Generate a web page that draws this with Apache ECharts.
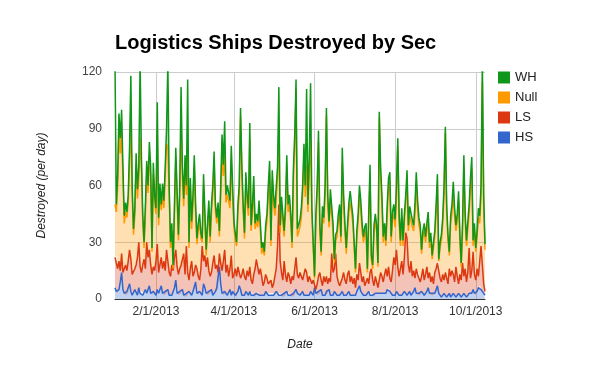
<!DOCTYPE html>
<html><head><meta charset="utf-8">
<script src="https://cdn.jsdelivr.net/npm/echarts@6/dist/echarts.min.js"></script>
<style>html,body{margin:0;padding:0;background:#fff}#c{width:600px;height:371px}</style>
</head><body><div id="c"></div>
<script>
// Daily data starting 1/1/2013
const startDate = [2013, 1, 1];
const tickLabels = ['2/1/2013', '4/1/2013', '6/1/2013', '8/1/2013', '10/1/2013'];
const yTicks = [0, 30, 60, 90, 120];

const hs = [
6,4,3,5,9,14,5,3,2,4,
3,8,4,2,3,5,4,2,6,3,
4,2,3,5,3,4,7,3,2,4,
3,2,5,3,4,7,3,2,4,3,
5,2,3,2,4,6,10,3,2,4,
3,5,2,1,3,2,4,3,2,4,
5,9,3,2,4,3,2,8,6,3,
2,4,3,5,2,3,4,6,5,17,
8,3,2,4,3,2,3,5,2,4,
3,2,1,4,7,5,2,3,2,4,
3,2,4,2,3,2,1,3,4,2,
3,2,1,2,4,3,2,3,2,3,
2,3,4,3,2,3,2,1,3,2,
4,2,3,2,1,3,2,5,3,2,
2,3,4,2,3,2,3,2,4,3,
2,6,3,2,4,3,5,2,3,2,
4,3,5,2,3,2,4,3,2,3,
2,3,4,2,3,2,3,4,2,3,
2,3,2,4,5,7,4,3,2,3,
2,3,4,2,3,2,1,3,2,3,
2,3,2,3,4,3,5,6,4,3,
2,3,2,4,3,2,3,2,3,4,
3,2,3,4,2,3,4,6,3,2,
3,2,4,3,2,3,4,6,3,2,
3,2,3,4,7,3,2,1,2,3,
2,1,2,3,1,2,3,2,1,2,
3,2,1,2,3,2,1,2,3,2,
3,5,3,2,4,6,7,5,4,3,
2];

const ls = [
16,19,13,15,6,10,9,13,16,11,
17,18,17,11,11,11,14,20,24,14,
10,16,18,11,27,18,19,15,11,13,
12,18,24,11,14,15,13,18,11,23,
15,12,9,16,11,16,16,14,11,12,
15,12,22,12,25,12,6,13,18,8,
9,9,13,10,6,13,26,12,17,14,
20,11,9,9,17,20,12,12,9,7,
11,12,18,22,11,16,9,11,21,7,
10,14,11,13,7,6,11,13,10,6,
12,10,13,8,5,11,15,18,18,11,
13,10,6,7,9,8,6,4,8,3,
6,9,12,25,48,17,12,9,17,11,
5,12,9,6,11,7,14,17,10,9,
12,9,6,11,13,12,6,10,6,5,
8,3,2,6,8,11,5,5,9,7,
8,5,6,7,21,12,12,21,10,6,
5,3,7,12,7,6,10,11,7,9,
6,8,4,9,5,12,10,6,10,4,
7,8,4,12,13,8,6,9,7,3,
8,11,10,6,9,13,7,11,7,6,
13,19,16,22,14,10,13,18,10,18,
32,30,15,10,18,9,11,5,13,11,
11,7,8,13,8,10,13,5,11,7,
9,6,11,12,12,17,9,8,11,7,
12,10,6,13,11,13,10,7,16,10,
5,11,9,17,9,14,8,12,24,9,
12,20,10,8,12,6,13,23,14,5,
2];

const nullSec = [
28,23,43,68,62,64,50,24,28,28,
31,46,72,42,20,28,53,31,34,68,
55,23,6,29,35,34,50,47,12,49,
36,25,60,25,38,25,39,28,50,56,
60,41,15,18,1,24,48,35,18,39,
74,47,25,56,27,62,17,43,17,38,
56,28,13,24,30,16,2,40,37,6,
14,32,18,32,36,49,30,22,32,9,
36,62,45,50,37,37,44,32,50,44,
25,15,16,28,42,85,52,30,20,51,
35,32,68,26,38,46,21,20,16,34,
20,12,20,14,22,30,47,60,18,57,
42,32,28,36,38,15,35,31,13,32,
61,32,38,33,15,54,64,89,20,22,
24,31,45,61,38,57,37,57,74,36,
17,2,36,47,71,22,13,38,28,46,
85,42,27,44,29,22,3,7,21,32,
38,24,61,36,26,16,23,31,42,34,
32,16,8,19,31,36,33,27,18,27,
27,3,33,51,5,6,28,29,27,11,
86,50,38,21,23,12,33,41,51,21,
27,23,20,28,64,29,12,23,15,19,
16,30,18,30,24,26,21,34,45,34,
25,27,12,17,26,17,19,30,13,23,
9,19,19,29,41,0,16,22,26,45,
74,34,23,7,28,30,43,35,19,29,
44,18,7,17,58,25,19,23,18,47,
54,3,23,15,17,31,20,26,97,42,
22];

const wh = [
75,4,6,10,8,12,6,4,5,3,
4,8,25,5,3,4,6,5,6,40,
6,4,3,5,8,4,7,5,2,6,
4,3,15,4,5,3,6,4,5,8,
45,5,3,4,2,4,6,5,3,5,
20,6,4,7,5,40,3,5,4,5,
6,4,3,4,5,3,2,6,5,3,
4,5,3,4,5,6,4,3,5,3,
5,10,6,18,4,5,4,4,8,5,
3,4,2,5,4,5,6,4,3,6,
5,4,8,3,4,6,3,4,3,5,
4,3,3,2,4,4,5,6,3,5,
5,4,5,6,24,4,5,4,3,5,
6,4,5,4,3,5,7,5,4,3,
4,5,5,8,6,40,4,6,30,4,
3,1,4,5,6,4,2,4,3,5,
4,5,3,5,6,4,2,3,3,4,
5,3,8,5,4,3,4,5,6,4,
4,3,2,4,4,5,5,4,3,4,
4,2,4,6,2,2,4,4,3,2,
3,6,5,3,4,3,5,6,5,3,
4,5,4,6,4,4,3,5,3,4,
4,6,3,5,4,4,3,5,6,5,
4,3,2,3,4,3,4,5,3,3,
2,3,3,5,6,1,3,3,4,5,
3,5,3,2,4,5,6,4,3,4,
5,3,2,4,6,4,3,4,5,6,
6,3,4,2,3,5,4,6,10,5,
3];

const seriesNames = ['WH', 'Null', 'LS', 'HS'];
const seriesColors = {WH: '#109618', Null: '#ff9900', LS: '#dc3912', HS: '#3366cc'};

// category labels (M/D/YYYY), one per day
const categories = [];
const t0 = Date.UTC(startDate[0], startDate[1] - 1, startDate[2]);
for (let i = 0; i < hs.length; i++) {
  const d = new Date(t0 + i * 86400000);
  categories.push((d.getUTCMonth() + 1) + '/' + d.getUTCDate() + '/' + d.getUTCFullYear());
}
const showTick = (idx, val) => tickLabels.indexOf(val !== undefined ? val : categories[idx]) >= 0;

function mk(name, data) {
  const c = seriesColors[name];
  return {
    name: name, type: 'line', stack: 'total', data: data,
    showSymbol: false, symbol: 'none', smooth: false,
    lineStyle: {width: 1.5, color: c}, itemStyle: {color: c},
    areaStyle: {color: c, opacity: 0.3},
    emphasis: {disabled: true}, animation: false
  };
}

const FONT = 'Liberation Sans, Arial, sans-serif';
const chart = echarts.init(document.getElementById('c'), null, {renderer: 'canvas'});
chart.setOption({
  animation: false,
  backgroundColor: '#fff',
  title: {
    text: 'Logistics Ships Destroyed by Sec', left: 110, top: 28,
    textStyle: {fontFamily: FONT, fontSize: 20, fontWeight: 'bold', color: '#000'}
  },
  legend: {
    data: seriesNames, orient: 'vertical', left: 493, top: 66,
    icon: 'rect', itemWidth: 12, itemHeight: 12, itemGap: 7,
    textStyle: {fontFamily: FONT, fontSize: 13, color: '#222'},
    selectedMode: false
  },
  grid: {left: 115, top: 72, width: 370, height: 227, containLabel: false},
  xAxis: {
    type: 'category', data: categories, boundaryGap: false,
    name: 'Date', nameLocation: 'middle', nameGap: 40,
    nameTextStyle: {fontFamily: FONT, fontSize: 12, fontStyle: 'italic', color: '#222'},
    axisLine: {show: true, lineStyle: {color: '#333', width: 1}},
    axisTick: {show: false},
    axisLabel: {interval: showTick, fontFamily: FONT, fontSize: 12, color: '#333', margin: 7},
    splitLine: {show: true, interval: showTick, lineStyle: {color: '#ccc', width: 1}}
  },
  yAxis: {
    type: 'value', min: yTicks[0], max: yTicks[yTicks.length - 1], interval: 30,
    name: 'Destroyed (per day)', nameLocation: 'middle', nameGap: 67,
    nameTextStyle: {fontFamily: FONT, fontSize: 12, fontStyle: 'italic', color: '#222'},
    axisLine: {show: false}, axisTick: {show: false},
    axisLabel: {fontFamily: FONT, fontSize: 12, color: '#444', margin: 13},
    splitLine: {show: true, lineStyle: {color: '#ccc', width: 1}}
  },
  series: [mk('HS', hs), mk('LS', ls), mk('Null', nullSec), mk('WH', wh)]
});
</script>
</body></html>
